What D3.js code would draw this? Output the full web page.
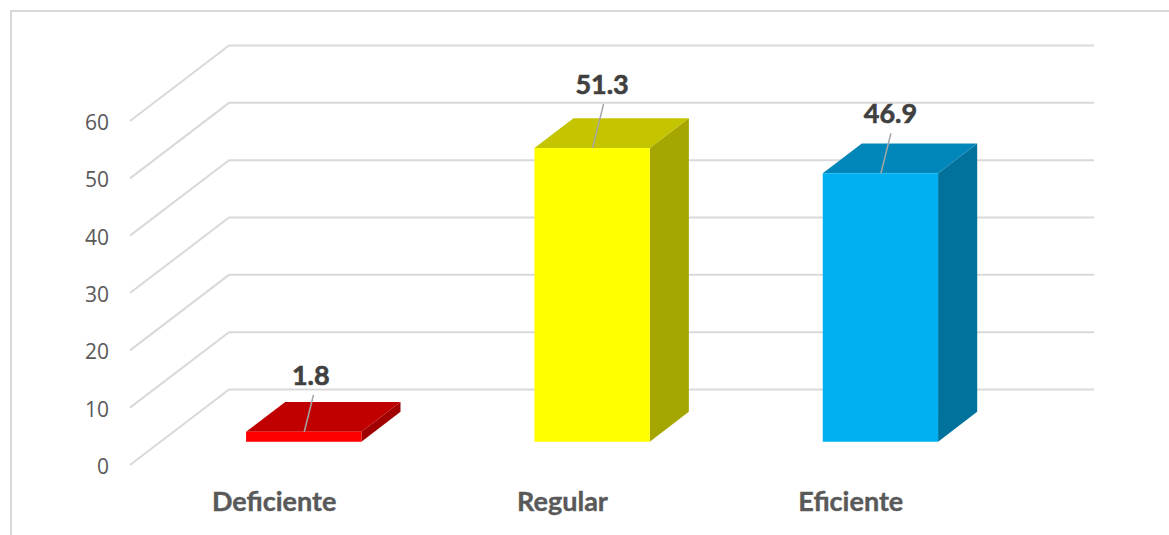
<!DOCTYPE html>
<html>
<head>
<meta charset="utf-8">
<script src="https://cdn.jsdelivr.net/npm/d3@7"></script>
<style>
  html, body { margin: 0; padding: 0; background: #fff; }
  svg { display: block; }
</style>
</head>
<body>
<div id="chart"></div>
<script>
var categories = ["Deficiente", "Regular", "Eficiente"];
var values = [1.8, 51.3, 46.9];
var valueLabels = ["1.8", "51.3", "46.9"];
var yTicks = [0, 10, 20, 30, 40, 50, 60];
var frontColors = ["#ff0000", "#ffff00", "#00b0f0"];
var topColors = ["#c00000", "#c4c400", "#0086b8"];
var sideColors = ["#a00000", "#a6a600", "#00729c"];

var w = 1169, h = 535;

// floor depth of the 3d box, back wall is shifted by this much
var depthX = 99, depthY = -75.5;
// bars stand part way into the floor
var barStart = 0.309, barDepth = 0.395;

var x = d3.scaleBand()
  .domain(categories)
  .range([130, 995])
  .paddingInner(0.6)
  .paddingOuter(0.3);

var y = d3.scaleLinear()
  .domain([0, 60])
  .range([465, 121]);

var svg = d3.select("#chart")
  .append("svg")
  .attr("width", w)
  .attr("height", h);

// chart frame, only top and left show, the rest is cut off by the picture
svg.append("path")
  .attr("d", "M11,535V11H1169")
  .attr("fill", "none")
  .attr("stroke", "#d9d9d9")
  .attr("stroke-width", 2);

// gridlines: slanted floor part then along the back wall
var grid = svg.append("g")
  .attr("fill", "none")
  .attr("stroke", "#d9d9d9")
  .attr("stroke-width", 2);

grid.selectAll("path")
  .data(yTicks)
  .enter()
  .append("path")
  .attr("d", function(d) {
    var p = d3.path();
    p.moveTo(x.range()[0], y(d));
    p.lineTo(x.range()[0] + depthX, y(d) + depthY);
    p.lineTo(x.range()[1] + depthX, y(d) + depthY);
    return p.toString();
  });

svg.append("g")
  .selectAll("text")
  .data(yTicks)
  .enter()
  .append("text")
  .attr("x", 109)
  .attr("y", function(d) { return y(d) + 9; })
  .attr("text-anchor", "end")
  .attr("font-family", "'Open Sans', sans-serif")
  .attr("font-size", 21)
  .attr("fill", "#595959")
  .text(function(d) { return d; });

// one group per bar
var bars = svg.selectAll("g.bar")
  .data(categories)
  .enter()
  .append("g")
  .attr("class", "bar");

function corners(i) {
  var l = x(categories[i]) + depthX * barStart - 1;
  var r = l + x.bandwidth();
  var b = y(0) + depthY * barStart;
  var t = y(values[i]) + depthY * barStart + 0.5;
  return { l: l, r: r, b: b, t: t, dx: depthX * barDepth, dy: depthY * barDepth };
}

function poly(pts) {
  return d3.line()(pts) + "Z";
}

bars.append("path")
  .attr("fill", function(d, i) { return sideColors[i]; })
  .attr("d", function(d, i) {
    var c = corners(i);
    return poly([[c.r, c.t], [c.r + c.dx, c.t + c.dy], [c.r + c.dx, c.b + c.dy], [c.r, c.b]]);
  });

bars.append("path")
  .attr("fill", function(d, i) { return topColors[i]; })
  .attr("d", function(d, i) {
    var c = corners(i);
    return poly([[c.l, c.t], [c.l + c.dx, c.t + c.dy], [c.r + c.dx, c.t + c.dy], [c.r, c.t]]);
  });

bars.append("path")
  .attr("fill", function(d, i) { return frontColors[i]; })
  .attr("d", function(d, i) {
    var c = corners(i);
    return poly([[c.l, c.t], [c.r, c.t], [c.r, c.b], [c.l, c.b]]);
  });

// leader lines up to the data labels
var leaderX = 10, leaderUp = [37, 44, 40];

bars.append("line")
  .attr("x1", function(d, i) { return corners(i).l + x.bandwidth() / 2 + 0.5; })
  .attr("y1", function(d, i) { return corners(i).t; })
  .attr("x2", function(d, i) { return corners(i).l + x.bandwidth() / 2 + 0.5 + leaderX * leaderUp[i] / 40; })
  .attr("y2", function(d, i) { return corners(i).t - leaderUp[i]; })
  .attr("stroke", "#a6a6a6")
  .attr("stroke-width", 1.5);

bars.append("text")
  .attr("x", function(d, i) { return corners(i).l + x.bandwidth() / 2 + 7 + 3 * Math.min(i, 1); })
  .attr("y", function(d, i) { return corners(i).t - leaderUp[i] - 10; })
  .attr("text-anchor", "middle")
  .attr("font-family", "Lato, sans-serif")
  .attr("font-weight", "bold")
  .attr("font-size", 27)
  .attr("fill", "#404040")
  .attr("stroke", "#404040")
  .attr("stroke-width", 0.6)
  .text(function(d, i) { return valueLabels[i]; });

svg.append("g")
  .selectAll("text")
  .data(categories)
  .enter()
  .append("text")
  .attr("x", function(d) { return x(d) + x.bandwidth() / 2; })
  .attr("y", 511)
  .attr("text-anchor", "middle")
  .attr("font-family", "Lato, sans-serif")
  .attr("font-weight", "bold")
  .attr("font-size", 27)
  .attr("fill", "#595959")
  .attr("stroke", "#595959")
  .attr("stroke-width", 0.4)
  .text(function(d) { return d; });
</script>
</body>
</html>
